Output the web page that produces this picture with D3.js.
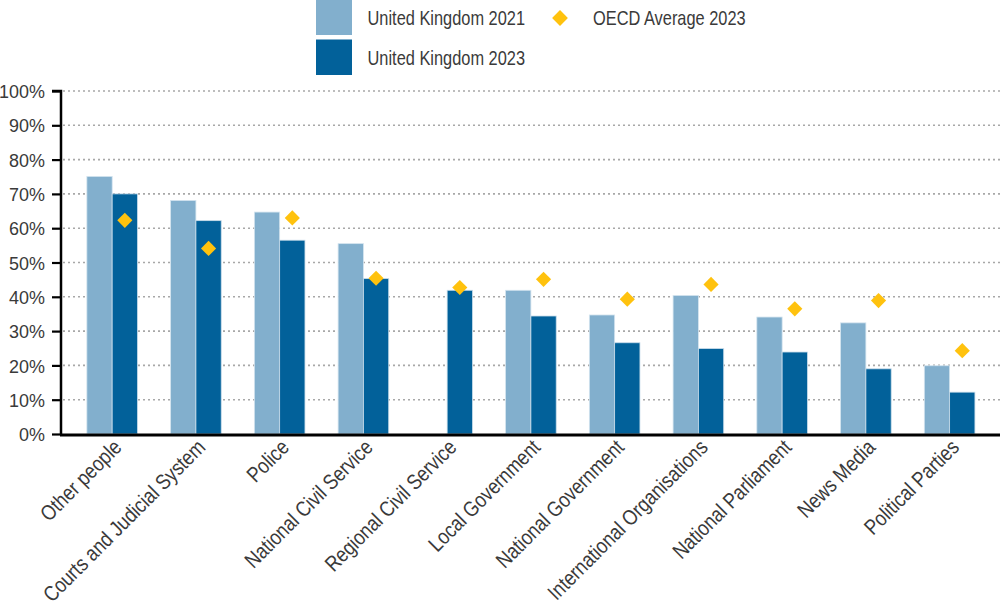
<!DOCTYPE html>
<html><head><meta charset="utf-8">
<script src="https://cdn.jsdelivr.net/npm/d3@7"></script>
<style>
body{margin:0;background:#fff;}
svg text{font-family:"Liberation Sans",Arial,sans-serif;fill:#3a3a3a;}
</style></head>
<body>
<svg id="chart" width="1000" height="605"></svg>
<script>
const categories = ["Other people","Courts and Judicial System","Police","National Civil Service","Regional Civil Service","Local Government","National Government","International Organisations","National Parliament","News Media","Political Parties"];
const uk2021 = [75.1, 68.1, 64.7, 55.5, null, 41.9, 34.7, 40.4, 34.1, 32.4, 19.9];
const uk2023 = [70.0, 62.2, 56.5, 45.3, 41.9, 34.4, 26.6, 24.9, 23.9, 19.0, 12.2];
const oecd2023 = [62.3, 54.1, 63.0, 45.4, 42.7, 45.1, 39.3, 43.6, 36.5, 38.9, 24.3];
const yTicks = [0,10,20,30,40,50,60,70,80,90,100];
const seriesNames = ["United Kingdom 2021","United Kingdom 2023","OECD Average 2023"];
const colors = {light:"#82afcd", dark:"#02619a", gold:"#ffc20e"};

const svg = d3.select("#chart");
const pLeft = 61, pRight = 1000, pTop = 91, pBottom = 434;
const narrow = 0.82; // emulate Arial Narrow

const x = d3.scaleBand().domain(categories).range([70.3, 991.5]).padding(0);
const y = d3.scaleLinear().domain([0,100]).range([pBottom, pTop]);
const barW = 25.3;

// gridlines
svg.append("g").selectAll("line").data(yTicks.filter(t=>t>0)).join("line")
  .attr("x1", pLeft+2).attr("x2", pRight)
  .attr("y1", d=>y(d)).attr("y2", d=>y(d))
  .attr("stroke","#a8a8a8").attr("stroke-width",1.6).attr("stroke-dasharray","2,3");

// bars
const g = svg.append("g");
g.selectAll("rect.b21").data(categories.map((c,i)=>({c,v:uk2021[i]})).filter(d=>d.v!=null)).join("rect")
  .attr("x", d=>x(d.c)+x.bandwidth()/2-barW).attr("width", barW)
  .attr("y", d=>y(d.v)).attr("height", d=>pBottom-y(d.v))
  .attr("fill", colors.light).attr("stroke","#d4e4ef").attr("stroke-width",0.8);
g.selectAll("rect.b23").data(categories.map((c,i)=>({c,v:uk2023[i]}))).join("rect")
  .attr("x", d=>x(d.c)+x.bandwidth()/2).attr("width", barW)
  .attr("y", d=>y(d.v)).attr("height", d=>pBottom-y(d.v))
  .attr("fill", colors.dark).attr("stroke","#c9dcea").attr("stroke-width",0.8);

// diamonds
const diamond = d3.symbol().type(d3.symbolSquare).size(115);
g.selectAll("path.oecd").data(categories.map((c,i)=>({c,v:oecd2023[i]}))).join("path")
  .attr("d", diamond)
  .attr("transform", d=>`translate(${x(d.c)+x.bandwidth()/2+barW/2},${y(d.v)}) rotate(45)`)
  .attr("fill", colors.gold);

// y axis
const yScaleX = 0.97;
const yAxis = d3.axisLeft(y).tickValues(yTicks).tickFormat(d=>d+"%").tickSize(9).tickPadding(6);
const ya = svg.append("g").attr("transform",`translate(${pLeft},0)`).call(yAxis);
ya.select(".domain").attr("stroke","#000").attr("stroke-width",2.5).attr("d",`M-9,${pTop}H0V${pBottom+1}`);
ya.selectAll(".tick line").attr("stroke","#000").attr("stroke-width",2.2);
ya.selectAll(".tick text").style("font-size","18.5px").attr("dy","0.36em").style("fill","#3a3a3a")
  .attr("x", -16/yScaleX).attr("transform",`scale(${yScaleX},1)`);

// x axis line
svg.append("line").attr("x1",pLeft-1).attr("x2",pRight).attr("y1",pBottom+1).attr("y2",pBottom+1)
  .attr("stroke","#000").attr("stroke-width",3);

// x labels
svg.append("g").selectAll("text").data(categories).join("text")
  .attr("transform", d=>`translate(${x(d)+x.bandwidth()/2},${pBottom+4}) rotate(-45) scale(0.84,1)`)
  .attr("text-anchor","end").attr("dy","0.7em")
  .style("font-size","21.5px").text(d=>d);

// legend
const lg = svg.append("g");
lg.append("rect").attr("x",316).attr("y",0).attr("width",36).attr("height",35).attr("fill",colors.light);
lg.append("rect").attr("x",316).attr("y",39.5).attr("width",36).attr("height",35.5).attr("fill",colors.dark);
lg.append("text").attr("transform",`translate(367.5,18) scale(${narrow},1)`).attr("dy","0.35em").style("font-size","20px").text(seriesNames[0]);
lg.append("text").attr("transform",`translate(367.5,57.5) scale(${narrow},1)`).attr("dy","0.35em").style("font-size","20px").text(seriesNames[1]);
lg.append("path").attr("d", d3.symbol().type(d3.symbolSquare).size(125)).attr("transform","translate(560,18) rotate(45)").attr("fill",colors.gold);
lg.append("text").attr("transform",`translate(593,18) scale(${narrow},1)`).attr("dy","0.35em").style("font-size","20px").text(seriesNames[2]);
</script>
</body></html>
